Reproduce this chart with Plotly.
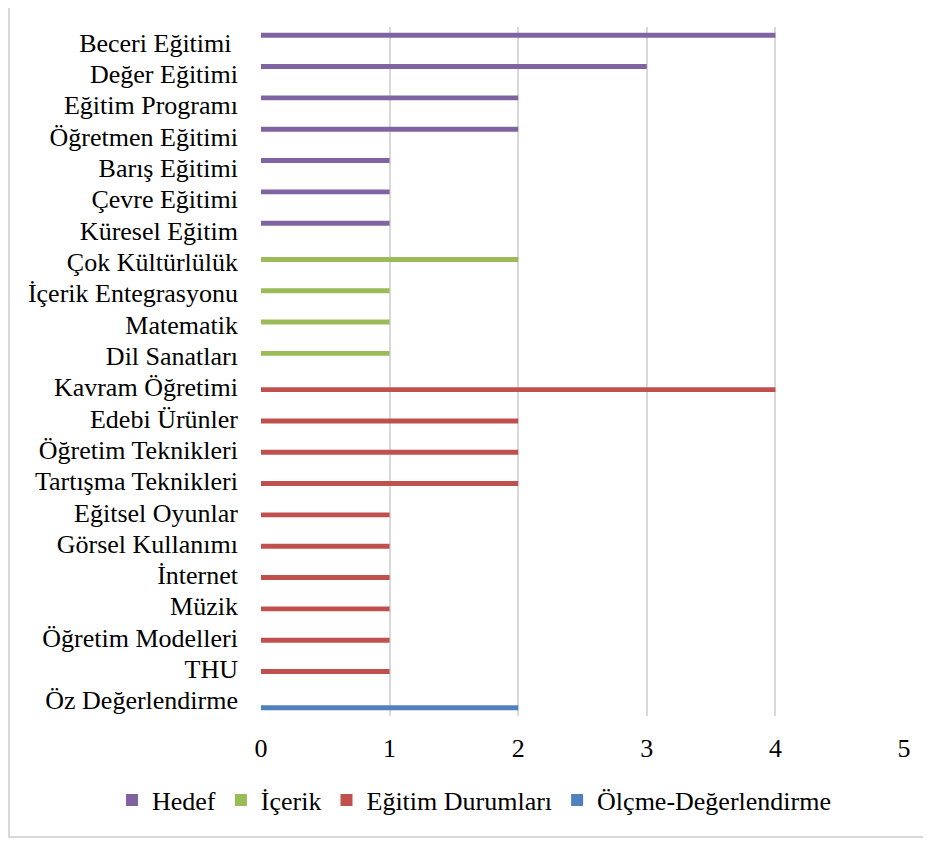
import plotly.graph_objects as go

categories = ["Beceri Eğitimi ", "Değer Eğitimi", "Eğitim Programı", "Öğretmen Eğitimi",
              "Barış Eğitimi", "Çevre Eğitimi", "Küresel Eğitim",
              "Çok Kültürlülük", "İçerik Entegrasyonu", "Matematik", "Dil Sanatları",
              "Kavram Öğretimi", "Edebi Ürünler", "Öğretim Teknikleri", "Tartışma Teknikleri",
              "Eğitsel Oyunlar", "Görsel Kullanımı", "İnternet", "Müzik", "Öğretim Modelleri", "THU",
              "Öz Değerlendirme"]

hedef = [4, 3, 2, 2, 1, 1, 1] + [None] * 15
icerik = [None] * 7 + [2, 1, 1, 1] + [None] * 11
egitim = [None] * 11 + [4, 2, 2, 2, 1, 1, 1, 1, 1, 1] + [None]
olcme = [None] * 21 + [2]

series = [("Hedef", hedef, "#8064A2"), ("İçerik", icerik, "#9BBB59"),
          ("Eğitim Durumları", egitim, "#C0504D"), ("Ölçme-Değerlendirme", olcme, "#4F81BD")]

fig = go.Figure()
for name, vals, col in series:
    fig.add_trace(go.Bar(y=categories, x=vals, name=name, orientation="h",
                         marker=dict(color=col, line=dict(width=0))))

font = dict(family="Liberation Serif", size=26, color="#000000")
W, H = 931, 833
fig.update_layout(
    width=W, height=H,
    margin=dict(l=253, r=35, t=19, b=125),
    paper_bgcolor="white", plot_bgcolor="white",
    barmode="group", bargap=0.37, bargroupgap=0,
    font=font,
    showlegend=True,
    legend=dict(orientation="h", x=-0.2317, xanchor="left", y=-0.1219, yanchor="middle",
                font=font, traceorder="normal", itemwidth=30, bgcolor="rgba(0,0,0,0)"),
    xaxis=dict(range=[0, 5], dtick=1, showgrid=True, gridcolor="#D9D9D9", gridwidth=2,
               zeroline=False, showline=False, ticks="", ticklabelstandoff=14),
    yaxis=dict(autorange="reversed", showgrid=False, zeroline=False, showline=False,
               ticks="", ticklabelstandoff=22, tickmode="array",
               tickvals=categories, ticktext=categories),
    shapes=[dict(type="rect", xref="paper", yref="paper",
                 x0=(1 - 253) / 643, x1=1.3, y0=-(829 - 708) / 689, y1=1.2,
                 line=dict(color="#D9D9D9", width=2), fillcolor="rgba(0,0,0,0)", layer="below")],
)
fig.write_html("out.html")
